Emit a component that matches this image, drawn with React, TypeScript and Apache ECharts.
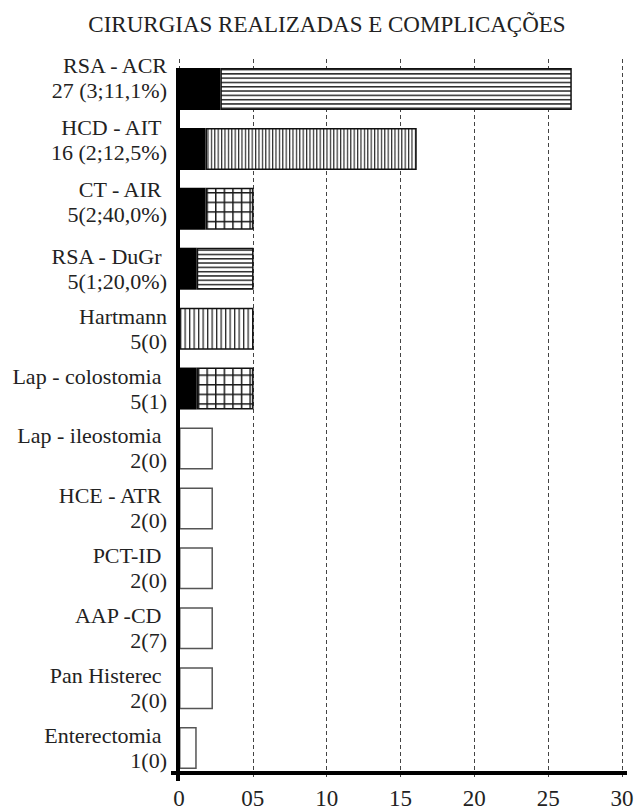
import React, { useEffect, useRef } from 'react';
import * as echarts from 'echarts';

// ---- data ----
const titleText = 'CIRURGIAS REALIZADAS E COMPLICAÇÕES';
const procedureNames = [
  'RSA - ACR',
  'HCD - AIT\u00A0',
  'CT - AIR\u00A0',
  'RSA - DuGr\u00A0',
  'Hartmann',
  'Lap - colostomia\u00A0',
  'Lap - ileostomia\u00A0',
  'HCE - ATR\u00A0',
  'PCT-ID\u00A0',
  'AAP -CD\u00A0',
  'Pan Histerec\u00A0',
  'Enterectomia\u00A0',
];
const procedureCounts = [
  '27 (3;11,1%)',
  '16 (2;12,5%)',
  '5(2;40,0%)',
  '5(1;20,0%)',
  '5(0)',
  '5(1)',
  '2(0)',
  '2(0)',
  '2(0)',
  '2(7)',
  '2(0)',
  '1(0)',
];
// bar lengths as drawn in the picture
const complicationBars = [2.8, 1.8, 1.8, 1.2, 0, 1.2, 0, 0, 0, 0, 0, 0];
const totalBars = [26.6, 16.1, 5.05, 5.05, 5.05, 5.05, 2.3, 2.3, 2.3, 2.3, 2.3, 1.2];
const xTickLabels = ['0', '05', '10', '15', '20', '25', '30'];

// ---- styling ----
const FONT = "'Liberation Serif', 'Times New Roman', serif";
const fillKinds = ['h', 'vd', 'grid', 'h', 'v', 'grid', 'none', 'none', 'none', 'none', 'none', 'none'];
const labelLift = [22, 18, 14, 0, 0, 0, 0, 0, 0, 0, 0, 0];
const BAR_W = 42;

const svgUrl = (w: number, h: number, body: string) =>
  'data:image/svg+xml;charset=utf-8,' +
  encodeURIComponent(
    `<svg xmlns="http://www.w3.org/2000/svg" width="${w}" height="${h}" viewBox="0 0 ${w} ${h}"><rect width="${w}" height="${h}" fill="#fff"/>${body}</svg>`
  );
const makePattern = (w: number, h: number, body: string) => ({
  image: svgUrl(w, h, body),
  repeat: 'repeat',
  imageWidth: w,
  imageHeight: h,
});

const patterns: Record<string, any> = {
  h: makePattern(6, 4.3, '<rect x="0" y="0" width="6" height="1.5" fill="#2a2a2a"/>'),
  vd: makePattern(3.4, 6, '<rect x="0" y="0" width="1.2" height="6" fill="#2a2a2a"/>'),
  v: makePattern(4.5, 6, '<rect x="0" y="0" width="1.3" height="6" fill="#2a2a2a"/>'),
  grid: makePattern(
    8.6,
    9.6,
    '<rect x="0" y="0" width="1.5" height="9.6" fill="#1a1a1a"/><rect x="0" y="0" width="8.6" height="1.5" fill="#1a1a1a"/>'
  ),
};

export default function App() {
  const ref = useRef<HTMLDivElement>(null);

  useEffect(() => {
    document.body.style.margin = '0';
    if (!ref.current) return;
    const chart = echarts.init(ref.current, null, { renderer: 'svg' });

    const categories = procedureNames.map((n, i) => n + '\n' + procedureCounts[i]);

    const rich: Record<string, any> = {
      t: { fontFamily: FONT, fontSize: 22, lineHeight: 25, color: '#222', align: 'right' },
    };
    labelLift.forEach((l) => {
      if (l) rich['s' + l] = { fontFamily: FONT, fontSize: 2, lineHeight: l, align: 'right' };
    });

    const restData = totalBars.map((t, i) => {
      const kind = fillKinds[i];
      return {
        value: +(t - complicationBars[i]).toFixed(2),
        itemStyle:
          kind === 'none'
            ? { color: '#ffffff', borderColor: '#555', borderWidth: 1.5 }
            : { color: patterns[kind], borderColor: '#111', borderWidth: 1.5 },
      };
    });

    chart.setOption({
      animation: false,
      backgroundColor: '#ffffff',
      title: {
        text: titleText,
        left: 322,
        top: 8,
        textAlign: 'center',
        textStyle: { fontFamily: FONT, fontSize: 23, fontWeight: 'normal', color: '#222' },
      },
      grid: { left: 179, right: 19, top: 59, bottom: 30, containLabel: false },
      xAxis: {
        type: 'value',
        min: 0,
        max: 30,
        interval: 5,
        offset: -5,
        axisLine: { show: false },
        axisTick: { show: false },
        splitLine: { show: true, lineStyle: { color: '#444', width: 1, type: [4, 3] } },
        axisLabel: {
          margin: 14,
          fontFamily: FONT,
          fontSize: 23,
          color: '#222',
          formatter: (v: number) => xTickLabels[Math.round(v / 5)] ?? String(v),
        },
      },
      yAxis: {
        type: 'category',
        inverse: true,
        data: categories,
        axisLine: { show: false },
        axisTick: { show: false },
        splitLine: { show: false },
        axisLabel: {
          interval: 0,
          margin: 12,
          fontFamily: FONT,
          fontSize: 22,
          lineHeight: 25,
          color: '#222',
          align: 'right',
          formatter: (_v: string, idx: number) => {
            const l = labelLift[idx];
            let s = `{t|${procedureNames[idx]}}\n{t|${procedureCounts[idx]}}`;
            if (l) s += `\n{s${l}| }`;
            return s;
          },
          rich,
        },
      },
      series: [
        {
          name: 'Complicações',
          type: 'bar',
          stack: 'total',
          barWidth: BAR_W,
          data: complicationBars,
          itemStyle: { color: '#000', borderWidth: 0 },
          silent: true,
        },
        {
          name: 'Cirurgias',
          type: 'bar',
          stack: 'total',
          barWidth: BAR_W,
          data: restData,
          silent: true,
        },
      ],
    });

    // axis lines positioned from the chart's own scales
    const x0 = chart.convertToPixel({ xAxisIndex: 0 }, 0) as number;
    const xMax = chart.convertToPixel({ xAxisIndex: 0 }, 30) as number;
    const yFirst = chart.convertToPixel({ yAxisIndex: 0 }, 0) as number;
    const yLast = chart.convertToPixel({ yAxisIndex: 0 }, categories.length - 1) as number;
    const band = (yLast - yFirst) / (categories.length - 1);
    const gridBottom = yLast + band / 2;
    const xAxisY = gridBottom - 5;

    chart.setOption({
      graphic: [
        {
          type: 'line',
          z: 50,
          shape: { x1: x0 - 1, y1: yFirst - BAR_W / 2, x2: x0 - 1, y2: gridBottom + 3 },
          style: { stroke: '#000', lineWidth: 4 },
        },
        {
          type: 'line',
          z: 50,
          shape: { x1: x0 - 8, y1: xAxisY, x2: xMax + 5, y2: xAxisY },
          style: { stroke: '#000', lineWidth: 4 },
        },
      ],
    });

    return () => chart.dispose();
  }, []);

  return <div ref={ref} style={{ width: 641, height: 810 }} />;
}
